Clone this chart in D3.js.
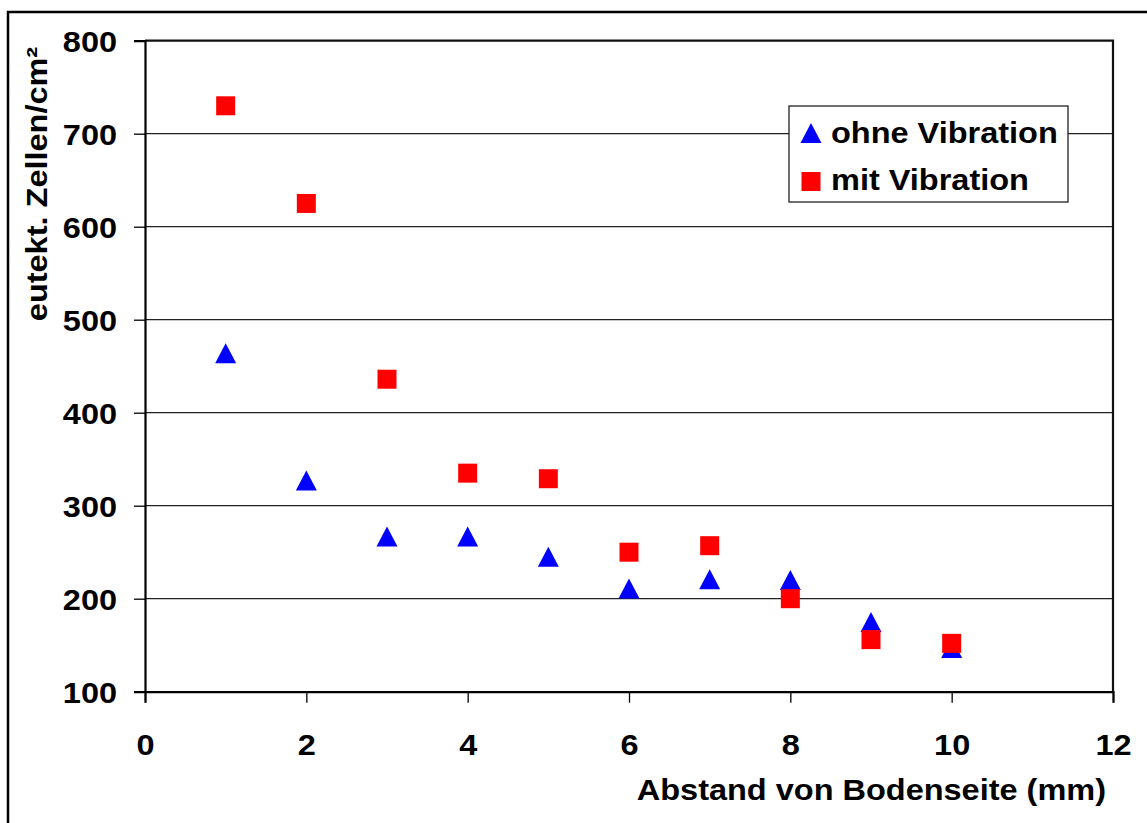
<!DOCTYPE html>
<html>
<head>
<meta charset="utf-8">
<script src="https://cdn.jsdelivr.net/npm/d3@7"></script>
<style>
  html, body { margin: 0; padding: 0; background: #fff; }
  svg { display: block; }
  text { font-family: "Liberation Sans", Arial, sans-serif; font-weight: bold; fill: #000; }
</style>
</head>
<body>
<svg id="chart" width="1147" height="823"></svg>
<script>
// ---- data ----
const xValues = [1, 2, 3, 4, 5, 6, 7, 8, 9, 10];
const ohneVibration = [464, 327, 267, 267, 245, 211, 221, 220, 175, 147];
const mitVibration  = [730, 625, 436, 335, 329, 250, 257, 200, 156, 152];
const seriesNames = ["ohne Vibration", "mit Vibration"];
const seriesColors = ["#0000ff", "#ff0000"];
const xTicks = [0, 2, 4, 6, 8, 10, 12];
const yTicks = [100, 200, 300, 400, 500, 600, 700, 800];
const xTitle = "Abstand von Bodenseite (mm)";
const yTitle = "eutekt. Zellen/cm²";

// ---- layout ----
const W = 1147, H = 823;
const plot = { left: 145, right: 1113, top: 40.7, bottom: 691.7 };
const FS = 29, STRETCH = 1.12;

const svg = d3.select("#chart");

// outer frame (extends beyond the picture on right/bottom)
svg.append("rect")
  .attr("x", 8).attr("y", 12).attr("width", 2000).attr("height", 2000)
  .attr("fill", "none").attr("stroke", "#000").attr("stroke-width", 2.5);

const x = d3.scaleLinear().domain([0, 12]).range([plot.left, plot.right]);
const y = d3.scaleLinear().domain([100, 800]).range([plot.bottom, plot.top]);

function stretch(sel) {
  sel.each(function () {
    const len = this.getComputedTextLength();
    d3.select(this).attr("textLength", len * STRETCH).attr("lengthAdjust", "spacingAndGlyphs");
  });
}

// gridlines
svg.append("g").selectAll("line").data(yTicks.filter(d => d > 100 && d < 800)).join("line")
  .attr("x1", plot.left).attr("x2", plot.right)
  .attr("y1", d => y(d)).attr("y2", d => y(d))
  .attr("stroke", "#222").attr("stroke-width", 1.3);

// plot border (top & right)
svg.append("path")
  .attr("d", `M${plot.left},${plot.top}H${plot.right}V${plot.bottom}`)
  .attr("fill", "none").attr("stroke", "#111").attr("stroke-width", 2.2);

// y axis
const gy = svg.append("g").attr("transform", `translate(${plot.left},0)`)
  .call(d3.axisLeft(y).tickValues(yTicks).tickSize(11).tickPadding(17).tickFormat(d3.format("d")));
gy.select(".domain").attr("stroke", "#000").attr("stroke-width", 2.2);
gy.selectAll(".tick line").attr("stroke", "#000").attr("stroke-width", 1.3);
gy.selectAll(".tick text").attr("font-size", FS).attr("font-family", null).attr("dy", "0.36em").call(stretch);

// x axis
const gx = svg.append("g").attr("transform", `translate(0,${plot.bottom})`)
  .call(d3.axisBottom(x).tickValues(xTicks).tickSize(11).tickPadding(0).tickFormat(d3.format("d")));
gx.select(".domain").attr("stroke", "#000").attr("stroke-width", 2.2);
gx.selectAll(".tick line").attr("stroke", "#000").attr("stroke-width", 1.3);
gx.selectAll(".tick text").attr("font-size", FS).attr("font-family", null)
  .attr("y", 755 - plot.bottom).attr("dy", 0).call(stretch);

// axis titles
svg.append("text").attr("x", 1106).attr("y", 800).attr("text-anchor", "end")
  .attr("font-size", FS).text(xTitle).call(stretch);
svg.append("text").attr("transform", "translate(47,184) rotate(-90)").attr("text-anchor", "middle")
  .attr("font-size", FS).text(yTitle).call(stretch);

// markers
const tri = "M0,-10L10.5,10L-10.5,10Z";
const sq = "M-9.5,-9.5H9.5V9.5H-9.5Z";

svg.append("g").selectAll("path").data(xValues.map((d, i) => [d, ohneVibration[i]])).join("path")
  .attr("d", tri).attr("fill", seriesColors[0])
  .attr("transform", d => `translate(${x(d[0])},${y(d[1])})`);
svg.append("g").selectAll("path").data(xValues.map((d, i) => [d, mitVibration[i]])).join("path")
  .attr("d", sq).attr("fill", seriesColors[1])
  .attr("transform", d => `translate(${x(d[0])},${y(d[1])})`);

// legend
const lg = svg.append("g");
lg.append("rect").attr("x", 789).attr("y", 106).attr("width", 279).attr("height", 96)
  .attr("fill", "#fff").attr("stroke", "#222").attr("stroke-width", 1.3);
const shapes = [tri, sq];
const rowsY = [133, 181.5];
const baseY = [143, 190];
seriesNames.forEach((name, i) => {
  lg.append("path").attr("d", shapes[i]).attr("fill", seriesColors[i])
    .attr("transform", `translate(811,${rowsY[i]})`);
  lg.append("text").attr("x", 831).attr("y", baseY[i]).attr("font-size", FS).text(name).call(stretch);
});
</script>
</body>
</html>
